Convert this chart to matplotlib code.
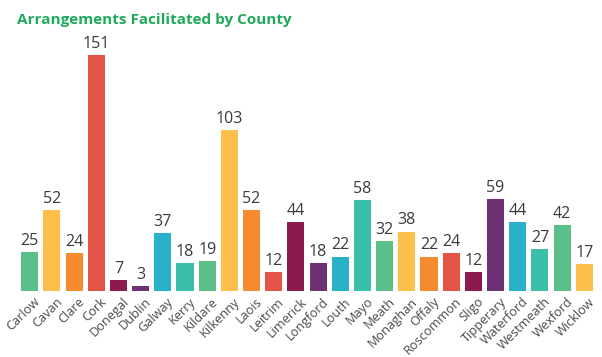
import matplotlib.pyplot as plt
from matplotlib.transforms import ScaledTranslation

counties = ["Carlow", "Cavan", "Clare", "Cork", "Donegal", "Dublin", "Galway", "Kerry",
            "Kildare", "Kilkenny", "Laois", "Leitrim", "Limerick", "Longford", "Louth", "Mayo",
            "Meath", "Monaghan", "Offaly", "Roscommon", "Sligo", "Tipperary", "Waterford",
            "Westmeath", "Wexford", "Wicklow"]
arrangements = [25, 52, 24, 151, 7, 3, 37, 18, 19, 103, 52, 12, 44, 18, 22, 58,
                32, 38, 22, 24, 12, 59, 44, 27, 42, 17]

palette = ["#5bbf8a", "#fdbe4b", "#f58a2f", "#e35446", "#8b1a4f", "#6e3274", "#2ab1ca", "#3abfa8"]
colors = [palette[i % len(palette)] for i in range(len(counties))]

plt.rcParams['font.family'] = ['Open Sans', 'DejaVu Sans']

fig = plt.figure(figsize=(6.02, 3.57), dpi=100)
ax = fig.add_axes([0.031, 0.185, 0.958, 0.70])

x = range(len(counties))
bars = ax.bar(x, arrangements, width=0.77, color=colors)
for b, v in zip(bars, arrangements):
    ax.text(b.get_x() + b.get_width() / 2, v + 2, str(v), ha="center", va="bottom",
            fontsize=11.5, color="#3a3a3a")

ax.set_xlim(-0.5, len(counties) - 0.5)
ax.set_ylim(0, 160)
ax.set_xticks(list(x))
ax.set_xticklabels(counties, rotation=45, ha="right", va="top", rotation_mode="anchor",
                   fontsize=9.2, color="#4a4a4a")
ax.tick_params(axis="x", length=0, pad=3)
shift = ScaledTranslation(4 / 100, 0, fig.dpi_scale_trans)
for lbl in ax.get_xticklabels():
    lbl.set_transform(lbl.get_transform() + shift)
ax.set_yticks([])
for s in ax.spines.values():
    s.set_visible(False)

fig.text(0.028, 0.945, "Arrangements Facilitated by County", fontsize=11, fontweight="bold",
         color="#1eaa5a", ha="left", va="center")

fig.savefig("out.png", dpi=100)
